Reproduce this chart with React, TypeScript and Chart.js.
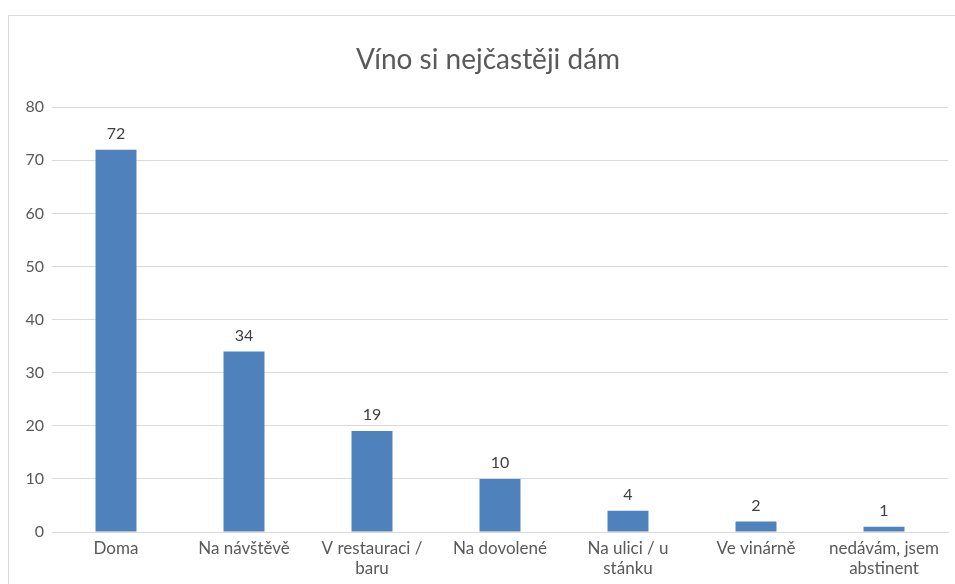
import React, { useEffect, useRef } from "react";
import { Chart, registerables } from "chart.js";

Chart.register(...registerables);

const titleText = "Víno si nejčastěji dám";
const categories: (string | string[])[] = [
  "Doma",
  "Na návštěvě",
  ["V restauraci /", "baru"],
  "Na dovolené",
  ["Na ulici / u", "stánku"],
  "Ve vinárně",
  ["nedávám, jsem", "abstinent"],
];
const values = [72, 34, 19, 10, 4, 2, 1];
const yMin = 0;
const yMax = 80;
const yStep = 10;

const FONT = "Lato, 'Open Sans', sans-serif";

const valueLabels = {
  id: "valueLabels",
  afterDatasetsDraw(chart: any) {
    const ctx = chart.ctx;
    const meta = chart.getDatasetMeta(0);
    ctx.save();
    ctx.font = `16px ${FONT}`;
    ctx.fillStyle = "#404040";
    ctx.textAlign = "center";
    ctx.textBaseline = "bottom";
    meta.data.forEach((bar: any, i: number) => {
      ctx.fillText(String(chart.data.datasets[0].data[i]), bar.x, bar.y - 8);
    });
    ctx.restore();
  },
};

const titleDraw = {
  id: "titleDraw",
  afterDraw(chart: any) {
    const ctx = chart.ctx;
    ctx.save();
    ctx.font = `28px ${FONT}`;
    ctx.fillStyle = "#595959";
    ctx.textAlign = "center";
    ctx.textBaseline = "middle";
    ctx.fillText(titleText, 488, 60);
    ctx.restore();
  },
};

export default function App() {
  const ref = useRef<HTMLCanvasElement>(null);
  useEffect(() => {
    const chart = new Chart(ref.current!, {
      type: "bar",
      data: {
        labels: categories,
        datasets: [
          {
            data: values,
            backgroundColor: "#4f81bd",
            categoryPercentage: 1,
            barPercentage: 0.32,
          },
        ],
      },
      plugins: [valueLabels, titleDraw],
      options: {
        animation: false,
        responsive: false,
        maintainAspectRatio: false,
        layout: { padding: { left: 0, right: 7, top: 0, bottom: 0 } },
        plugins: {
          legend: { display: false },
          tooltip: { enabled: false },
          title: {
            display: true,
            text: titleText,
            color: "rgba(0,0,0,0)",
            font: { family: FONT, size: 26, weight: "normal", lineHeight: 1.2 },
            padding: { top: 43, bottom: 33 },
          },
        },
        scales: {
          x: {
            grid: { display: false, drawTicks: false },
            border: { display: true, color: "#d9d9d9", width: 1 },
            ticks: {
              color: "#595959",
              font: { family: FONT, size: 17, lineHeight: 1.15 },
              padding: 7,
              maxRotation: 0,
              autoSkip: false,
            },
            afterFit(scale: any) {
              scale.height = 52;
            },
          },
          y: {
            min: yMin,
            max: yMax,
            grid: { color: "#d9d9d9", drawTicks: false },
            border: { display: false },
            ticks: {
              stepSize: yStep,
              color: "#595959",
              font: { family: FONT, size: 16 },
              padding: 8,
            },
            afterFit(scale: any) {
              scale.width = 52;
            },
          },
        },
      },
    });
    return () => chart.destroy();
  }, []);
  return (
    <div style={{ position: "absolute", left: 0, top: 0, width: 955, height: 584, overflow: "hidden", background: "#fff" }}>
      <div
        style={{
          position: "absolute",
          left: 8,
          top: 15,
          width: 960,
          height: 600,
          border: "1px solid #d9d9d9",
          boxSizing: "border-box",
        }}
      />
      <canvas ref={ref} width={955} height={584} style={{ position: "absolute", left: 0, top: 0 }} />
    </div>
  );
}
